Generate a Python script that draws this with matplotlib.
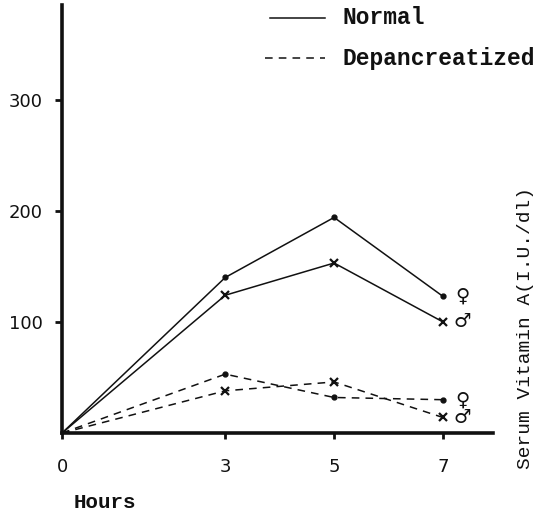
import matplotlib.pyplot as plt
from matplotlib.lines import Line2D

# data
hours = [0, 3, 5, 7]
normal_female = [0, 140, 194, 123]
normal_male = [0, 124, 153, 100]
depan_female = [0, 53, 32, 30]
depan_male = [0, 38, 46, 14]

x_ticks = [0, 3, 5, 7]
y_ticks = [100, 200, 300]

mono = 'Liberation Mono'
ink = '#111111'

fig = plt.figure(figsize=(5.35, 5.18), dpi=100)
ax = fig.add_axes([0.1159, 0.164, 0.8056, 0.826])
ax.set_xlim(0, 7.92)
ax.set_ylim(0, 385)

# normal (solid)
ax.plot(hours, normal_female, color=ink, lw=1.1, marker='o', ms=3.5, markevery=[1, 2, 3])
ax.plot(hours, normal_male, color=ink, lw=1.1, marker='x', ms=6, mew=1.6, markevery=[1, 2, 3])

# depancreatized (dashed)
ax.plot(hours, depan_female, color=ink, lw=1.1, ls=(0, (5, 4)), marker='o', ms=3.5, markevery=[1, 2, 3])
ax.plot(hours, depan_male, color=ink, lw=1.1, ls=(0, (5, 4)), marker='x', ms=6, mew=1.6, markevery=[1, 2, 3])

# sex symbols at the end of each line
for series, sym in [(normal_female, '\u2640'), (normal_male, '\u2642'),
                    (depan_female, '\u2640'), (depan_male, '\u2642')]:
    ax.annotate(sym, (hours[-1], series[-1]), xytext=(14, 0), textcoords='offset points',
                ha='center', va='center', fontsize=14, fontweight='bold', color=ink,
                family='DejaVu Sans')

# axes styling
for side in ['top', 'right']:
    ax.spines[side].set_visible(False)
for side in ['left', 'bottom']:
    ax.spines[side].set_linewidth(2.6)
    ax.spines[side].set_color(ink)

ax.set_xticks(x_ticks)
ax.set_yticks(y_ticks)
ax.tick_params(axis='x', direction='out', length=4, width=2, pad=14, labelsize=13, colors=ink)
ax.tick_params(axis='y', direction='out', length=5, width=2, pad=9, labelsize=13, colors=ink)

# axis titles
fig.text(105 / 535, 1 - 503 / 518, 'Hours', ha='center', va='center',
         family=mono, fontsize=15, fontweight='bold', color=ink)
fig.text(525 / 535, 1 - 328 / 518, 'Serum Vitamin A(I.U./dl)', rotation=90,
         ha='center', va='center', family=mono, fontsize=14, color=ink)

# legend drawn by hand
fig.add_artist(Line2D([270 / 535, 325 / 535], [1 - 18 / 518] * 2, color=ink, lw=1.1))
fig.text(342 / 535, 1 - 18 / 518, 'Normal', ha='left', va='center',
         family=mono, fontsize=16.5, fontweight='bold', color=ink)
fig.add_artist(Line2D([265 / 535, 325 / 535], [1 - 58 / 518] * 2, color=ink, lw=1.1, ls=(0, (5, 4))))
fig.text(342 / 535, 1 - 58 / 518, 'Depancreatized', ha='left', va='center',
         family=mono, fontsize=16.5, fontweight='bold', color=ink)

fig.savefig('out.png', dpi=100)
